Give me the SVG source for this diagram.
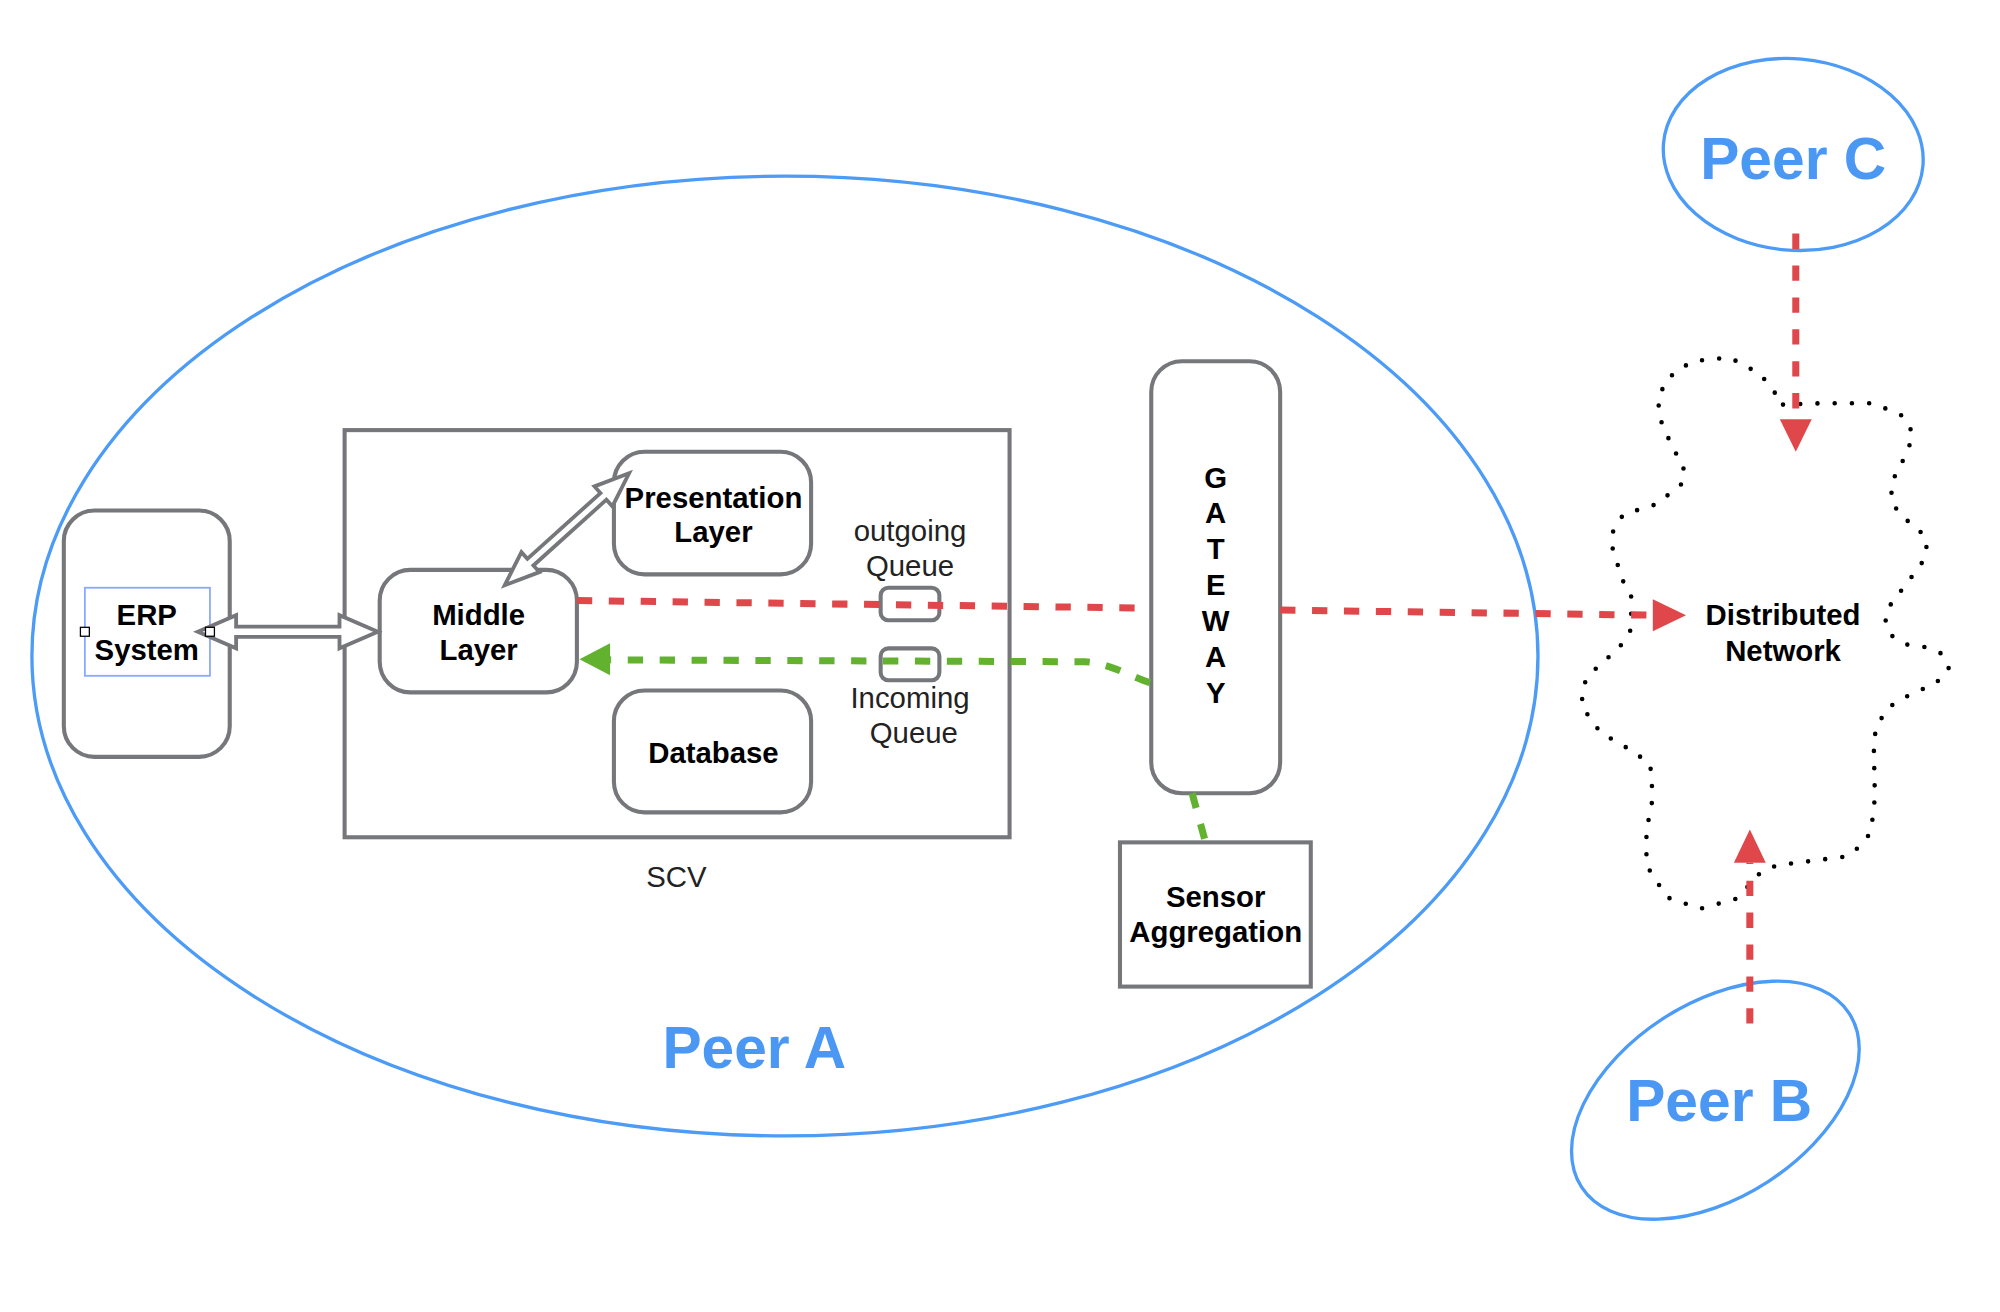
<svg xmlns="http://www.w3.org/2000/svg" width="2000" height="1312" viewBox="0 0 2000 1312">
<style>
.box{fill:#fff;stroke:#76777B;stroke-width:3.2}
.open{fill:none;stroke:#76777B;stroke-width:3.2}
.lbl{font-family:"Liberation Sans",Arial,sans-serif;font-weight:bold;font-size:23px;text-anchor:middle;fill:#000}
.thin{font-family:"Liberation Sans",Arial,sans-serif;font-size:23px;text-anchor:middle;fill:#222}
.peer{font-family:"Liberation Sans",Arial,sans-serif;font-weight:bold;font-size:46px;text-anchor:middle;fill:#4A97F4}
.peerline{fill:none;stroke:#4C9BF6;stroke-width:2.6}
.red{fill:none;stroke:#E0474B;stroke-width:5.5;stroke-dasharray:12 13}
.green{fill:none;stroke:#62B22F;stroke-width:5.5;stroke-dasharray:12 13}
.redhead{fill:#E0474B}
.greenhead{fill:#62B22F}
.hollow{fill:#fff;stroke:#76777B;stroke-width:3;stroke-linejoin:miter}
.handle{fill:#fff;stroke:#000;stroke-width:1}
</style>
<rect width="2000" height="1312" fill="#fff"/>
<g transform="scale(1.27632)">
  <g id="peer-a">
    <ellipse class="peerline" cx="615" cy="514" rx="590" ry="376"/>
    <text class="peer" x="591" y="837">Peer A</text>
  </g>
  <g id="peer-c">
    <ellipse class="peerline" cx="1405" cy="121" rx="102" ry="75" transform="rotate(5 1405 121)"/>
    <text class="peer" x="1405" y="140">Peer C</text>
  </g>
  <g id="peer-b">
    <ellipse class="peerline" cx="1344" cy="862" rx="125" ry="76" transform="rotate(-33 1344 862)"/>
    <text class="peer" x="1347" y="878">Peer B</text>
  </g>
  <g id="scv">
    <rect class="open" x="270" y="337" width="521" height="319"/>
    <text class="thin" x="530" y="695">SCV</text>
  </g>
  <g id="erp-system">
    <rect class="box" x="50" y="400" width="130" height="193" rx="24"/>
    <rect x="66.5" y="460.5" width="98" height="69" fill="none" stroke="#8AA8FF" stroke-width="1.4"/>
    <text class="lbl" x="115" y="490">ERP</text>
    <text class="lbl" x="115" y="517">System</text>
  </g>
  <g id="middle-layer">
    <rect class="box" x="297.5" y="446.5" width="154.5" height="96" rx="24"/>
    <text class="lbl" x="375" y="490">Middle</text>
    <text class="lbl" x="375" y="517">Layer</text>
  </g>
  <g id="presentation-layer">
    <rect class="box" x="481" y="354" width="154.5" height="96" rx="24"/>
    <text class="lbl" x="559" y="398">Presentation</text>
    <text class="lbl" x="559" y="425">Layer</text>
  </g>
  <g id="database">
    <rect class="box" x="481" y="541" width="154.5" height="95.5" rx="24"/>
    <text class="lbl" x="559" y="598">Database</text>
  </g>
  <g id="outgoing-queue">
    <rect class="open" x="690" y="460.5" width="46" height="25.5" rx="6"/>
    <text class="thin" x="713" y="424">outgoing</text>
    <text class="thin" x="713" y="451">Queue</text>
  </g>
  <g id="incoming-queue">
    <rect class="open" x="690" y="508" width="46" height="25" rx="6"/>
    <text class="thin" x="713" y="555">Incoming</text>
    <text class="thin" x="716" y="582">Queue</text>
  </g>
  <g id="gateway">
    <rect class="box" x="902" y="283" width="101" height="338.5" rx="24"/>
    <text class="lbl" x="952.5" y="382">G</text>
    <text class="lbl" x="952.5" y="410">A</text>
    <text class="lbl" x="952.5" y="438">T</text>
    <text class="lbl" x="952.5" y="466.5">E</text>
    <text class="lbl" x="952.5" y="494.5">W</text>
    <text class="lbl" x="952.5" y="522.5">A</text>
    <text class="lbl" x="952.5" y="551">Y</text>
  </g>
  <g id="sensor-aggregation">
    <rect class="box" x="877.5" y="660" width="149.5" height="113"/>
    <text class="lbl" x="952.5" y="711">Sensor</text>
    <text class="lbl" x="952.5" y="738">Aggregation</text>
  </g>
  <g id="distributed-network">
    <path d="M1397,317 L1426,316 L1468,316 L1491,326 L1499,340 L1495,352 L1489,365 L1482,378 L1482,393 L1490,405 L1502,413 L1510,424 L1508,438 L1500,449 L1491,461 L1482,472 L1477,485 L1482,498 L1494,505 L1508,507 L1521,512 L1527,524 L1517,535 L1504,541 L1491,547 L1480,554 L1472,566 L1468,579 L1469,625 L1466,651 L1460,661 L1447,671 L1392,678 L1379,684 L1361,704 L1332,712 L1306,703 L1290,678 L1290,651 L1295,625 L1293,599 L1280,589 L1254,574 L1239,553 L1241,536 L1248,526 L1269,507 L1278,493 L1278,467 L1271,454 L1263,428 L1264,415 L1272,403 L1298,395 L1319,378 L1319,364 L1311,352 L1301,329 L1299,313 L1305,299 L1314,290 L1327,283 L1355,280 L1379,293 L1388,304 Z" fill="none" stroke="#000" stroke-width="3.6" stroke-linecap="round" stroke-linejoin="round" stroke-dasharray="0 13.5"/>
    <text class="lbl" x="1397" y="490">Distributed</text>
    <text class="lbl" x="1397" y="518">Network</text>
  </g>
  <g id="connectors">
    <polygon class="hollow" points="155,495 185,482 185,491 266,491 266,482 296,495 266,508 266,499 185,499 185,508"/>
    <polygon class="hollow" transform="translate(395.5 458.5) rotate(-42)" points="0,0 27,-10.5 27,-3.5 104,-3.5 104,-10.5 131,0 104,10.5 104,3.5 27,3.5 27,10.5"/>
    <path class="red" d="M452,470.5 L902,476.5"/>
    <path class="red" d="M1003,478 L1296,482"/>
    <polygon class="redhead" points="1321,482 1295,469.5 1295,494.5"/>
    <path class="red" d="M1407,183 L1407,330"/>
    <polygon class="redhead" points="1407,354 1394.5,328.5 1419.5,328.5"/>
    <path class="red" d="M1371,802 L1371,676"/>
    <polygon class="redhead" points="1371,650 1358.5,676 1383.5,676"/>
    <path class="green" d="M901,535 C882,528 866,519 850,518.5 L478,517"/>
    <polygon class="greenhead" points="454,516.5 478,504 478,529"/>
    <path class="green" d="M934,621.5 L944,658"/>
    <rect class="handle" x="63" y="491.5" width="7" height="7"/>
    <rect class="handle" x="161" y="491.5" width="7" height="7"/>
  </g>
</g>
</svg>
